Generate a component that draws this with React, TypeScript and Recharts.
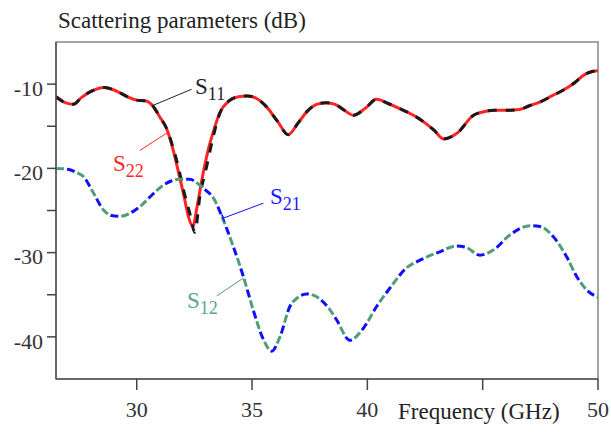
import { LineChart, Line, XAxis, YAxis, ReferenceArea, ReferenceLine, ReferenceDot } from "recharts"

const FONT = '"Liberation Serif", "Times New Roman", serif'

// S11 (black) and S22 (red), dB vs GHz
const s11Freq = [26.5, 26.9, 27.25, 27.6, 28.0, 28.6, 29.1, 29.6, 30.0, 30.4, 30.7, 31.0, 31.3, 31.55, 31.8, 32.05, 32.3, 32.52, 32.74, 33.03, 33.32, 33.6, 34.0, 34.4, 34.8, 35.2, 35.63, 36.1, 36.57, 37.0, 37.4, 37.8, 38.2, 38.6, 39.0, 39.4, 39.9, 40.4, 40.9, 41.4, 42.0, 42.5, 42.9, 43.3, 43.9, 44.6, 45.0, 45.5, 46.0, 46.6, 47.0, 47.5, 48.0, 48.5, 49.0, 49.4, 49.75, 50]
const s11Db = [-11.5, -12.2, -12.4, -11.6, -10.9, -10.4, -10.8, -11.5, -11.9, -12.0, -12.6, -13.9, -15.3, -17.3, -19.8, -22.8, -25.3, -27.6, -23.3, -19.8, -16.2, -13.5, -12.0, -11.5, -11.4, -11.7, -12.7, -14.4, -16.0, -14.6, -13.2, -12.4, -12.2, -12.4, -13.1, -13.7, -12.9, -11.8, -12.3, -12.9, -13.7, -14.6, -15.5, -16.5, -15.8, -13.7, -13.3, -13.1, -13.1, -13.0, -12.6, -12.1, -11.4, -10.7, -9.8, -8.9, -8.5, -8.4]

const s22Freq = [26.5, 26.9, 27.25, 27.6, 28.0, 28.6, 29.1, 29.6, 30.0, 30.4, 30.7, 31.0, 31.3, 31.55, 31.8, 32.05, 32.25, 32.43, 32.62, 32.85, 33.1, 33.35, 33.6, 34.0, 34.4, 34.8, 35.2, 35.63, 36.1, 36.57, 37.0, 37.4, 37.8, 38.2, 38.6, 39.0, 39.4, 39.9, 40.4, 40.9, 41.4, 42.0, 42.5, 42.9, 43.3, 43.9, 44.6, 45.0, 45.5, 46.0, 46.6, 47.0, 47.5, 48.0, 48.5, 49.0, 49.4, 49.75, 50]
const s22Db = [-11.5, -12.2, -12.4, -11.6, -10.9, -10.4, -10.8, -11.5, -11.9, -12.0, -12.6, -13.9, -15.3, -17.5, -20.3, -23.3, -25.8, -26.9, -24.5, -21.0, -17.8, -15.4, -13.4, -12.0, -11.5, -11.4, -11.7, -12.7, -14.4, -16.0, -14.6, -13.2, -12.4, -12.2, -12.4, -13.1, -13.7, -12.9, -11.8, -12.3, -12.9, -13.7, -14.6, -15.5, -16.5, -15.8, -13.7, -13.3, -13.1, -13.1, -13.0, -12.6, -12.1, -11.4, -10.7, -9.8, -8.9, -8.5, -8.4]

// S21 (blue) and S12 (green)
const s21Freq = [26.5, 27.0, 27.4, 27.7, 28.1, 28.55, 28.9, 29.27, 29.85, 30.2, 30.57, 31.15, 31.5, 31.8, 32.3, 32.74, 33.0, 33.32, 33.75, 34.19, 34.62, 35.05, 35.49, 35.85, 36.21, 36.64, 37.0, 37.37, 37.94, 38.38, 38.67, 39.24, 39.82, 40.4, 40.98, 41.7, 42.28, 43.14, 43.87, 44.3, 44.88, 45.46, 46.18, 47.05, 47.48, 48.06, 48.64, 49.07, 49.5, 50]
const s21Db = [-20.0, -20.1, -20.5, -21.0, -22.8, -24.9, -25.6, -25.7, -25.1, -24.4, -23.4, -22.0, -21.5, -21.3, -21.3, -22.0, -22.6, -23.5, -26.1, -29.3, -32.8, -36.8, -40.3, -41.7, -40.0, -36.4, -35.3, -34.9, -35.5, -36.8, -38.0, -40.4, -39.0, -36.4, -34.2, -31.8, -30.9, -29.9, -29.2, -29.4, -30.3, -29.7, -27.9, -26.8, -26.9, -28.1, -30.5, -32.8, -34.4, -35.3]
const s12Freq = s21Freq
const s12Db = [-20.0, -20.1, -20.5, -21.0, -22.8, -24.9, -25.6, -25.7, -25.1, -24.4, -23.4, -22.0, -21.5, -21.3, -21.3, -22.0, -22.6, -23.5, -26.1, -29.3, -32.8, -36.8, -40.3, -41.7, -40.0, -36.4, -35.3, -34.9, -35.5, -36.8, -38.0, -40.4, -39.0, -36.4, -34.2, -31.8, -30.9, -29.9, -29.2, -29.4, -30.3, -29.7, -27.9, -26.8, -26.9, -28.1, -30.5, -32.8, -34.4, -35.3]

const xTicks = [30, 35, 40, 45, 50]
const yTicks = [-40, -35, -30, -25, -20, -15, -10]

const toPoints = (fs: number[], vs: number[]) => fs.map((f, i) => ({ f, v: vs[i] }))

function SubLabel({ viewBox, main, sub, color }: any) {
  const { x, y } = viewBox
  return (
    <text x={x} y={y} fill={color} fontFamily={FONT} fontSize={23}>
      {main}
      <tspan dy={6} fontSize={18}>{sub}</tspan>
    </text>
  )
}

function YTick({ x, y, payload }: any) {
  if (payload.value % 10 !== 0) return null
  return (
    <text x={x} y={y + 4} dy="0.355em" textAnchor="end" fontFamily={FONT} fontSize={22} fill="#333">
      {payload.value}
    </text>
  )
}

const tickStyle = { fontSize: 22, fontFamily: FONT, fill: "#333" }

export default function App() {
  return (
    <div style={{ position: "relative", width: 603, height: 416, padding: 8 }}>
      <style>{`body { margin: 0; } .recharts-surface { overflow: visible; }`}</style>
      <LineChart width={603} height={416} margin={{ top: 34, right: 13, bottom: 0, left: 0 }}>
        <XAxis
          type="number"
          dataKey="f"
          domain={[26.5, 50]}
          ticks={xTicks}
          interval={0}
          allowDataOverflow
          height={45}
          tickSize={11}
          tickMargin={11}
          tick={tickStyle}
          tickFormatter={(v: number) => (v === 45 ? "" : String(v))}
          axisLine={{ stroke: "#555", strokeWidth: 1.5 }}
          tickLine={{ stroke: "#444", strokeWidth: 1.5 }}
        />
        <YAxis
          type="number"
          dataKey="v"
          domain={[-45, -5]}
          ticks={yTicks}
          interval={0}
          allowDataOverflow
          width={48}
          tickSize={9}
          tickMargin={4}
          tick={<YTick />}
          axisLine={{ stroke: "#555", strokeWidth: 1.5 }}
          tickLine={{ stroke: "#444", strokeWidth: 1.5 }}
        />
        <ReferenceArea x1={26.5} x2={50} y1={-45} y2={-5} fill="none" stroke="#888" strokeWidth={1.5} />

        <Line data={toPoints(s22Freq, s22Db)} dataKey="v" type="monotone" stroke="#ff2424" strokeWidth={3} dot={false} isAnimationActive={false} />
        <Line data={toPoints(s11Freq, s11Db)} dataKey="v" type="monotone" stroke="#1a1a1a" strokeWidth={3} strokeDasharray="9 9" dot={false} isAnimationActive={false} />
        <Line data={toPoints(s12Freq, s12Db)} dataKey="v" type="monotone" stroke="#4f9e78" strokeWidth={3} strokeDasharray="8 14" dot={false} isAnimationActive={false} />
        <Line data={toPoints(s21Freq, s21Db)} dataKey="v" type="monotone" stroke="#1010ff" strokeWidth={3} strokeDasharray="8 14" strokeDashoffset={11} dot={false} isAnimationActive={false} />

        <ReferenceLine segment={[{ x: 30.65, y: -12.59 }, { x: 32.38, y: -10.61 }]} stroke="#222" strokeWidth={1} />
        <ReferenceLine segment={[{ x: 30.14, y: -17.87 }, { x: 31.37, y: -15.68 }]} stroke="#ff2424" strokeWidth={1} />
        <ReferenceLine segment={[{ x: 33.75, y: -25.91 }, { x: 35.49, y: -24.13 }]} stroke="#1010ff" strokeWidth={1} />
        <ReferenceLine segment={[{ x: 33.69, y: -25.46 }, { x: 33.81, y: -26.36 }]} stroke="#1010ff" strokeWidth={1.5} />
        <ReferenceLine segment={[{ x: 33.47, y: -35.13 }, { x: 34.62, y: -33.03 }]} stroke="#4f9e78" strokeWidth={1} />

        <ReferenceDot x={32.53} y={-11.17} r={0} label={(p: any) => <SubLabel {...p} main="S" sub="11" color="#222" />} />
        <ReferenceDot x={28.97} y={-20.3} r={0} label={(p: any) => <SubLabel {...p} main="S" sub="22" color="#ff2424" />} />
        <ReferenceDot x={35.78} y={-24.22} r={0} label={(p: any) => <SubLabel {...p} main="S" sub="21" color="#1a1aff" />} />
        <ReferenceDot x={32.18} y={-36.55} r={0} label={(p: any) => <SubLabel {...p} main="S" sub="12" color="#5aa58a" />} />
      </LineChart>
      <svg width={603} height={416} style={{ position: "absolute", left: 8, top: 8, pointerEvents: "none", overflow: "visible" }}>
        <text x={50} y={20} fontFamily={FONT} fontSize={23} fill="#222">Scattering parameters (dB)</text>
        <text x={390} y={411} fontFamily={FONT} fontSize={23} fill="#222">Frequency (GHz)</text>
      </svg>
    </div>
  )
}
